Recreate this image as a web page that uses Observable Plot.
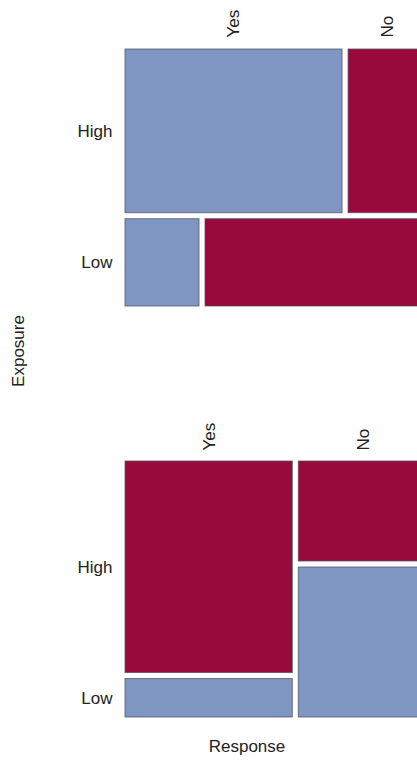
<!DOCTYPE html>
<html>
<head>
<meta charset="utf-8">
<script src="https://cdn.jsdelivr.net/npm/d3@7"></script>
<script src="https://cdn.jsdelivr.net/npm/@observablehq/plot@0.6"></script>
<style>
  html, body { margin: 0; padding: 0; background: #fff; overflow: hidden; }
  #wrap { position: relative; width: 417px; height: 761px; overflow: hidden; font-family: "Liberation Sans", Arial, sans-serif; }
  #wrap svg { display: block; }
  .lab { position: absolute; font-size: 17px; color: #222; white-space: nowrap; }
</style>
</head>
<body>
<div id="wrap"></div>
<script>
// ---- data ----
const exposureLevels = ["High", "Low"];
const responseLevels = ["Yes", "No"];
const countsYes = [55, 10];   // Response = Yes, by exposure (High, Low)
const countsNo  = [20, 30];   // Response = No,  by exposure (High, Low)
const axisTitleX = "Response";
const axisTitleY = "Exposure";

const blue = "#7f96c2";
const red = "#990a3c";
const gapPx = 6;
const fontSize = 17;

const cells = [];
exposureLevels.forEach((e, i) => {
  cells.push({exposure: e, response: "Yes", n: countsYes[i]});
  cells.push({exposure: e, response: "No", n: countsNo[i]});
});
const total = d3.sum(cells, d => d.n);

// generic 2-level mosaic: outer variable splits one axis, inner splits the other
function mosaic(outerKey, outerLevels, innerKey, innerLevels, gOuter, gInner) {
  const out = [];
  let o0 = 0;
  outerLevels.forEach((ov, oi) => {
    const sub = cells.filter(c => c[outerKey] === ov);
    const subTotal = d3.sum(sub, c => c.n);
    const op = subTotal / total;
    const o1 = o0 + op;
    let i0 = 0;
    innerLevels.forEach((iv, ii) => {
      const c = sub.find(s => s[innerKey] === iv);
      const ip = c.n / subTotal;
      out.push({...c, outer: ov, inner: iv, oi, ii, o0, o1, i0, i1: i0 + ip});
      i0 += ip + gInner;
    });
    o0 = o1 + gOuter;
  });
  return out;
}

const frameX = [125, 427];
const wrap = document.getElementById("wrap");

// ---------- Top panel: rows = Exposure, columns within row = Response ----------
{
  const yr = [49, 306];
  const gy = gapPx / (yr[1] - yr[0] - gapPx);
  const gx = gapPx / (frameX[1] - frameX[0] - gapPx);
  const m = mosaic("exposure", exposureLevels, "response", responseLevels, gy, gx);
  const colLabels = m.filter(d => d.oi === 0).map(d => ({label: d.response, x: (d.i0 + d.i1) / 2}));
  const rowLabels = m.filter(d => d.ii === 0).map(d => ({label: d.exposure, y: (d.o0 + d.o1) / 2}));
  const p = Plot.plot({
    width: 417, height: 380,
    marginLeft: 0, marginRight: 0, marginTop: 0, marginBottom: 0,
    style: {fontFamily: "'Liberation Sans', Arial, sans-serif", fontSize: fontSize + "px", color: "#222", overflow: "hidden"},
    x: {domain: [0, 1 + gx], range: frameX, axis: null},
    y: {domain: [0, 1 + gy], range: yr, axis: null},
    color: {domain: responseLevels, range: [blue, red]},
    marks: [
      Plot.rect(m, {x1: "i0", x2: "i1", y1: "o0", y2: "o1", fill: "response", stroke: "#4d5260", strokeWidth: 1, strokeOpacity: 0.75}),
      Plot.text(colLabels, {x: "x", y: () => 0, text: "label", rotate: -90, textAnchor: "start", lineAnchor: "middle", dy: -12, fill: "#222", fontSize}),
      Plot.text(rowLabels, {x: () => 0, y: "y", text: "label", textAnchor: "end", dx: -13, fill: "#222", fontSize})
    ]
  });
  wrap.appendChild(p);
}

// ---------- Bottom panel: columns = Response, rows within column = Exposure ----------
{
  const yr = [81, 337];
  const gy = gapPx / (yr[1] - yr[0] - gapPx);
  const gx = gapPx / (frameX[1] - frameX[0] - gapPx);
  const m = mosaic("response", responseLevels, "exposure", exposureLevels, gx, gy);
  const colLabels = m.filter(d => d.ii === 0).map(d => ({label: d.response, x: (d.o0 + d.o1) / 2}));
  const rowLabels = m.filter(d => d.oi === 0).map(d => ({label: d.exposure, y: (d.i0 + d.i1) / 2}));
  const p = Plot.plot({
    width: 417, height: 340,
    marginLeft: 0, marginRight: 0, marginTop: 0, marginBottom: 0,
    style: {fontFamily: "'Liberation Sans', Arial, sans-serif", fontSize: fontSize + "px", color: "#222", overflow: "hidden"},
    x: {domain: [0, 1 + gx], range: frameX, axis: null},
    y: {domain: [0, 1 + gy], range: yr, axis: null},
    color: {domain: exposureLevels, range: [red, blue]},
    marks: [
      Plot.rect(m, {x1: "o0", x2: "o1", y1: "i0", y2: "i1", fill: "exposure", stroke: "#4d5260", strokeWidth: 1, strokeOpacity: 0.75}),
      Plot.text(colLabels, {x: "x", y: () => 0, text: "label", rotate: -90, textAnchor: "start", lineAnchor: "middle", dy: -11, fill: "#222", fontSize}),
      Plot.text(rowLabels, {x: () => 0, y: "y", text: "label", textAnchor: "end", dx: -13, fill: "#222", fontSize})
    ]
  });
  wrap.appendChild(p);
}

// axis titles
const ty = document.createElement("div");
ty.className = "lab";
ty.textContent = axisTitleY;
ty.style.left = "19px";
ty.style.top = "351px";
ty.style.transform = "translate(-50%, -50%) rotate(-90deg)";
wrap.appendChild(ty);

const tx = document.createElement("div");
tx.className = "lab";
tx.textContent = axisTitleX;
tx.style.left = "247px";
tx.style.top = "747px";
tx.style.transform = "translate(-50%, -50%)";
wrap.appendChild(tx);
</script>
</body>
</html>
